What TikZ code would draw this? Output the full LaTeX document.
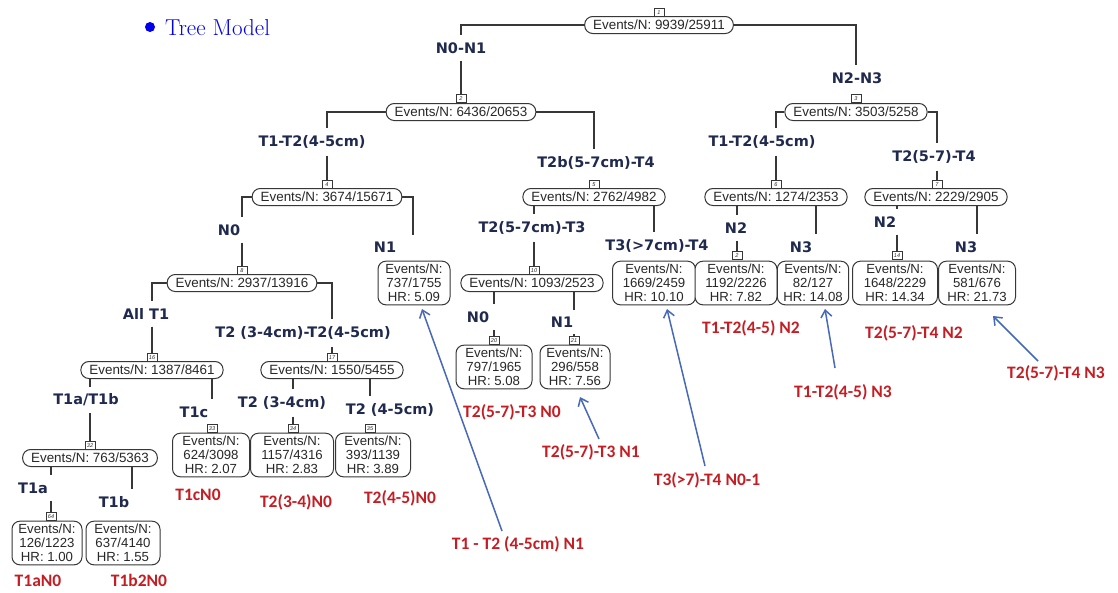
\documentclass[tikz,border=0pt]{standalone}
\usepackage{fontspec}
\newfontfamily\arialf{Liberation Sans}
\newfontfamily\verdf{DejaVu Sans}
\newfontfamily\carlf{Carlito}
\usetikzlibrary{arrows.meta,calc}
\definecolor{treegray}{RGB}{55,55,55}
\definecolor{txtgray}{RGB}{40,40,40}
\definecolor{navyc}{RGB}{32,42,78}
\definecolor{redc}{RGB}{196,30,36}
\definecolor{arrblue}{RGB}{72,104,184}
\definecolor{titleblue}{RGB}{0,0,235}
\tikzset{
  tline/.style={draw=treegray, line width=1.2pt},
  inode/.style={draw=treegray, line width=1pt, rounded corners=8pt, minimum height=17pt,
    inner xsep=8.5pt, inner ysep=1pt, font=\arialf\fontsize{13.4}{14}\selectfont, text=txtgray, fill=white},
  leaf/.style={draw=treegray, line width=1pt, rounded corners=8pt, align=center, inner xsep=6pt,
    inner ysep=3pt, minimum width=72pt, font=\arialf\fontsize{13.2}{14}\selectfont, text=txtgray, fill=white},
  nb/.style={draw=treegray, line width=0.7pt, inner sep=0pt, minimum width=10pt, minimum height=8.5pt,
    font=\arialf\itshape\fontsize{5.5}{6}\selectfont, fill=white, text=txtgray},
  split/.style={font=\verdf\bfseries\fontsize{14.5}{16}\selectfont, text=navyc, inner xsep=2pt, inner ysep=7pt},
  redlab/.style={font=\carlf\bfseries\fontsize{17.5}{19}\selectfont, text=redc, inner sep=1pt},
  arr/.style={draw=arrblue, line width=1.5pt, -{Straight Barb[length=7pt,width=11pt]}},
}
\begin{document}
\begin{tikzpicture}[x=1pt,y=-1pt]
\fill[white] (0,0) rectangle (1118,592);
\useasboundingbox (0,0) rectangle (1118,592);

% title
\node[circle, fill=titleblue, minimum size=10pt, inner sep=0pt] (bul) at (150,27) {};
\node[anchor=west, text=titleblue, font=\fontsize{23}{26}\selectfont, inner sep=0pt] (title) at (165,28) {Tree Model};

% internal nodes
\node[inode] (n1) at (659,25) {Events/N: 9939/25911};
\node[inode] (n2) at (461,112) {Events/N: 6436/20653};
\node[inode] (n3) at (856,112) {Events/N: 3503/5258};
\node[inode] (n4) at (327,197) {Events/N: 3674/15671};
\node[inode] (n5) at (594,197) {Events/N: 2762/4982};
\node[inode] (n6) at (776,197) {Events/N: 1274/2353};
\node[inode] (n7) at (936,197) {Events/N: 2229/2905};
\node[inode] (n8) at (242,283) {Events/N: 2937/13916};
\node[inode] (n10) at (532,283) {Events/N: 1093/2523};
\node[inode] (n16) at (152,370) {Events/N: 1387/8461};
\node[inode] (n17) at (332,370) {Events/N: 1550/5455};
\node[inode] (n32) at (90,458) {Events/N: 763/5363};

% leaves
\node[leaf] (L9) at (414,283) {Events/N:\\737/1755\\HR: 5.09};
\node[leaf, minimum width=83pt] (L11) at (654,283) {Events/N:\\1669/2459\\HR: 10.10};
\node[leaf, minimum width=82pt] (L12) at (736,283) {Events/N:\\1192/2226\\HR: 7.82};
\node[leaf, minimum width=70pt] (L13) at (813,283) {Events/N:\\82/127\\HR: 14.08};
\node[leaf, minimum width=85pt] (L14) at (895,283) {Events/N:\\1648/2229\\HR: 14.34};
\node[leaf, minimum width=77pt] (L15) at (977,283) {Events/N:\\581/676\\HR: 21.73};
\node[leaf, minimum width=76pt] (L20) at (494,367) {Events/N:\\797/1965\\HR: 5.08};
\node[leaf, minimum width=70pt] (L21) at (575,367) {Events/N:\\296/558\\HR: 7.56};
\node[leaf, minimum width=77pt] (L33) at (211,455) {Events/N:\\624/3098\\HR: 2.07};
\node[leaf, minimum width=83pt] (L34) at (292,455) {Events/N:\\1157/4316\\HR: 2.83};
\node[leaf, minimum width=75pt] (L35) at (373,455) {Events/N:\\393/1139\\HR: 3.89};
\node[leaf, minimum width=70pt] (L64) at (47,543) {Events/N:\\126/1223\\HR: 1.00};
\node[leaf, minimum width=74pt] (L65) at (123,543) {Events/N:\\637/4140\\HR: 1.55};

% number boxes
\node[nb, anchor=south] (b1) at (659,17) {1};
\node[nb, anchor=south] (b2) at (461,103) {2};
\node[nb, anchor=south] (b3) at (856,103) {3};
\node[nb, anchor=south] (b4) at (327,189) {4};
\node[nb, anchor=south] (b5) at (594,189) {5};
\node[nb, anchor=south] (b6) at (776,189) {6};
\node[nb, anchor=south] (b7) at (937,189) {7};
\node[nb, anchor=south] (b8) at (242,275) {8};
\node[nb, anchor=south] (b10) at (534,275) {10};
\node[nb, anchor=south] (b12) at (737,260) {2};
\node[nb, anchor=south] (b14) at (897,260) {14};
\node[nb, anchor=south] (b16) at (152,362) {16};
\node[nb, anchor=south] (b17) at (332,362) {17};
\node[nb, anchor=south] (b20) at (494,345) {20};
\node[nb, anchor=south] (b21) at (574,345) {21};
\node[nb, anchor=south] (b32) at (90,450) {32};
\node[nb, anchor=south] (b33) at (212,433) {33};
\node[nb, anchor=south] (b34) at (293,433) {34};
\node[nb, anchor=south] (b35) at (370,433) {35};
\node[nb, anchor=south] (b64) at (51,521) {64};

% branch x coordinates for leaves without boxes
\coordinate (c9) at (413,0);
\coordinate (c11) at (654,0);
\coordinate (c13) at (816,0);
\coordinate (c15) at (977,0);
\coordinate (c65) at (132,0);

% split labels
\node[split] (s2) at (461,48) {N0-N1};
\node[split] (s3) at (857,78) {N2-N3};
\node[split] (s4) at (312,142) {T1-T2(4-5cm)};
\node[split] (s5) at (596,163) {T2b(5-7cm)-T4};
\node[split] (s6) at (762,142) {T1-T2(4-5cm)};
\node[split] (s7) at (934,157) {T2(5-7)-T4};
\node[split] (s8) at (229,230) {N0};
\node[split] (s9) at (385,247) {N1};
\node[split] (s10) at (532,228) {T2(5-7cm)-T3};
\node[split] (s11) at (657,246) {T3(>7cm)-T4};
\node[split] (s12) at (736,228) {N2};
\node[split] (s13) at (801,247) {N3};
\node[split] (s14) at (885,222) {N2};
\node[split] (s15) at (966,247) {N3};
\node[split] (s16) at (146,314) {All T1};
\node[split] (s17) at (303,333) {T2 (3-4cm)-T2(4-5cm)};
\node[split] (s20) at (478,317) {N0};
\node[split] (s21) at (562,322) {N1};
\node[split] (s32) at (86,400) {T1a/T1b};
\node[split] (s33) at (194,412) {T1c};
\node[split] (s34) at (282,403) {T2 (3-4cm)};
\node[split] (s35) at (390,410) {T2 (4-5cm)};
\node[split] (s64) at (33,488) {T1a};
\node[split] (s65) at (114,502) {T1b};

% tree connectors
\draw[tline] (n1.west) -| (s2.north -| b2);
\draw[tline] (s2.south -| b2) -- (b2.north);
\draw[tline] (n1.east) -| (s3.north -| b3);
\draw[tline] (n2.west) -| (s4.north -| b4);
\draw[tline] (s4.south -| b4) -- (b4.north);
\draw[tline] (n2.east) -| (s5.north -| b5);
\draw[tline] (n3.west) -| (s6.north -| b6);
\draw[tline] (s6.south -| b6) -- (b6.north);
\draw[tline] (n3.east) -| (s7.north -| b7);
\draw[tline] (s7.south -| b7) -- (b7.north);
\draw[tline] (n4.west) -| (s8.north -| b8);
\draw[tline] (s8.south -| b8) -- (b8.north);
\draw[tline] (n4.east) -| (s9.north -| c9);
\draw[tline] (n5.south -| b10) -- (s10.north -| b10);
\draw[tline] (s10.south -| b10) -- (b10.north);
\draw[tline] (n5.south -| c11) -- (s11.north -| c11);
\draw[tline] (n6.south -| b12) -- (s12.north -| b12);
\draw[tline] (s12.south -| b12) -- (b12.north);
\draw[tline] (n6.south -| c13) -- (s13.north -| c13);
\draw[tline] (n7.south -| b14) -- (s14.north -| b14);
\draw[tline] (s14.south -| b14) -- (b14.north);
\draw[tline] (n7.south -| c15) -- (s15.north -| c15);
\draw[tline] (n8.west) -| (s16.north -| b16);
\draw[tline] (s16.south -| b16) -- (b16.north);
\draw[tline] (n8.east) -| (s17.north -| b17);
\draw[tline] (s17.south -| b17) -- (b17.north);
\draw[tline] (n10.south -| b20) -- (s20.north -| b20);
\draw[tline] (s20.south -| b20) -- (b20.north);
\draw[tline] (n10.south -| b21) -- (s21.north -| b21);
\draw[tline] (s21.south -| b21) -- (b21.north);
\draw[tline] (n16.south -| b32) -- (s32.north -| b32);
\draw[tline] (s32.south -| b32) -- (b32.north);
\draw[tline] (n16.south -| b33) -- (s33.north -| b33);
\draw[tline] (n17.south -| b34) -- (s34.north -| b34);
\draw[tline] (s34.south -| b34) -- (b34.north);
\draw[tline] (n17.south -| b35) -- (s35.north -| b35);
\draw[tline] (n32.south -| b64) -- (s64.north -| b64);
\draw[tline] (s64.south -| b64) -- (b64.north);
\draw[tline] (n32.south -| c65) -- (s65.north -| c65);

% red annotation labels
\node[redlab] (r12) at (751,328) {T1-T2(4-5) N2};
\node[redlab] (r14) at (914,333) {T2(5-7)-T4 N2};
\node[redlab] (r15) at (1056,373) {T2(5-7)-T4 N3};
\node[redlab] (r13) at (843,392) {T1-T2(4-5) N3};
\node[redlab] (r11) at (707,480) {T3(>7)-T4 N0-1};
\node[redlab] (r20) at (512,412) {T2(5-7)-T3 N0};
\node[redlab] (r21) at (591,452) {T2(5-7)-T3 N1};
\node[redlab] (r9) at (518,544) {T1 - T2 (4-5cm) N1};
\node[redlab] (r33) at (198,495) {T1cN0};
\node[redlab] (r34) at (296,502) {T2(3-4)N0};
\node[redlab] (r35) at (400,498) {T2(4-5)N0};
\node[redlab] (r64) at (38,581) {T1aN0};
\node[redlab] (r65) at (139,580) {T1b2N0};

% blue arrows
\coordinate (t9) at (502,531);  \coordinate (h9) at (422,309);
\coordinate (t21) at (599,439); \coordinate (h21) at (580,397);
\coordinate (t11) at (705,466); \coordinate (h11) at (667,309);
\coordinate (t13) at (835,368); \coordinate (h13) at (825,309);
\coordinate (t15) at (1038,361); \coordinate (h15) at (993,316);
\draw[arr] (t9) -- (h9);
\draw[arr] (t21) -- (h21);
\draw[arr] (t11) -- (h11);
\draw[arr] (t13) -- (h13);
\draw[arr] (t15) -- (h15);
\end{tikzpicture}
\end{document}
